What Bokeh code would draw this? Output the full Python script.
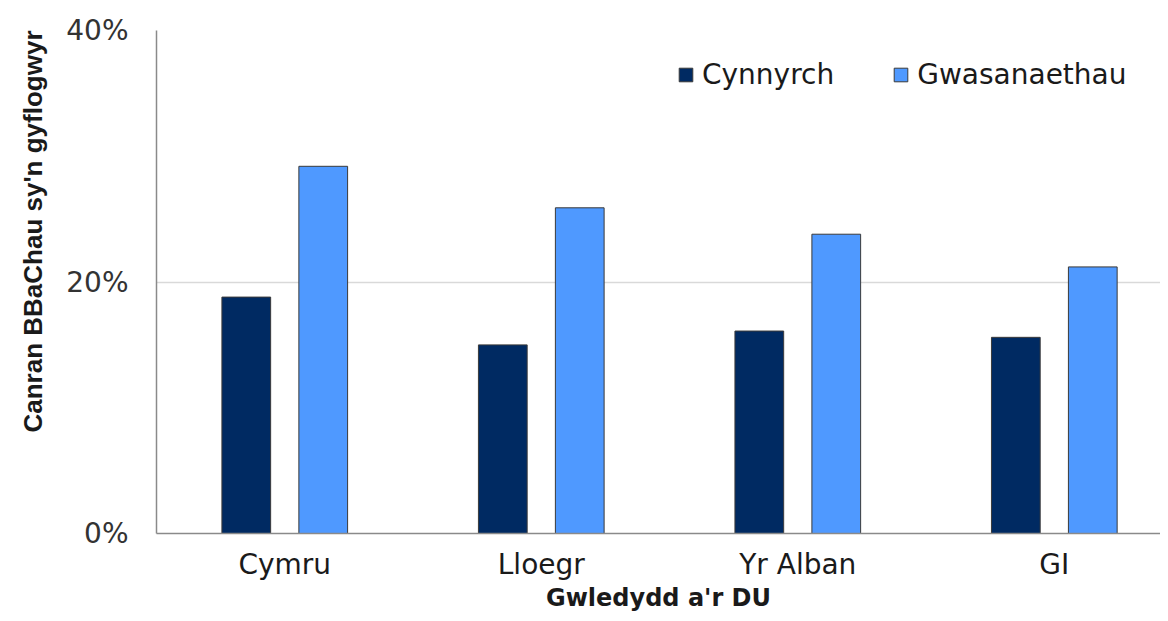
from bokeh.plotting import figure
from bokeh.models import Range1d, FixedTicker, ColumnDataSource, Legend, LegendItem, PrintfTickFormatter, Title
from bokeh.transform import dodge
from bokeh.embed import file_html
from bokeh.resources import INLINE

categories = ["Cymru", "Lloegr", "Yr Alban", "GI"]
cynnyrch = [18.8, 15.0, 16.1, 15.6]
gwasanaethau = [29.2, 25.9, 23.8, 21.2]
y_ticks = [0, 20, 40]

FONT = "DejaVu Sans"
x_pos = list(range(len(categories)))
src = ColumnDataSource(dict(x=x_pos, c=cynnyrch, g=gwasanaethau))

p = figure(width=1160, height=613, output_backend="svg", toolbar_location=None,
           x_range=Range1d(-0.5, 3.414), y_range=Range1d(0, 40),
           min_border_left=155, min_border_right=0, min_border_top=30, min_border_bottom=80)

r1 = p.vbar(x=dodge("x", -0.15), top="c", width=0.19, source=src,
            fill_color="#002a62", line_color="#3a3a3a", line_width=1)
r2 = p.vbar(x=dodge("x", 0.15), top="g", width=0.19, source=src,
            fill_color="#4f99ff", line_color="#3a3a3a", line_width=1)

p.outline_line_color = None
p.background_fill_color = "white"
p.border_fill_color = "white"

p.xgrid.visible = False
p.ygrid.ticker = FixedTicker(ticks=y_ticks)
p.ygrid.grid_line_color = "#d9d9d9"
p.ygrid.grid_line_width = 1.5

ya = p.yaxis[0]
ya.ticker = FixedTicker(ticks=y_ticks)
ya.formatter = PrintfTickFormatter(format="%d%%")
ya.major_tick_line_color = None
ya.minor_tick_line_color = None
ya.axis_line_color = "#8a8a8a"
ya.axis_line_width = 1.5
ya.major_label_text_font = FONT
ya.major_label_text_font_size = "28px"
ya.major_label_text_color = "#333333"
ya.major_label_standoff = 22

xa = p.xaxis[0]
xa.ticker = FixedTicker(ticks=x_pos)
xa.major_label_overrides = {i: c for i, c in enumerate(categories)}
xa.major_tick_line_color = None
xa.minor_tick_line_color = None
xa.axis_line_color = "#8a8a8a"
xa.axis_line_width = 1.5
xa.major_label_text_font = FONT
xa.major_label_text_font_size = "28px"
xa.major_label_text_color = "#1a1a1a"
xa.major_label_standoff = 8

ytitle = Title(text="Canran BBaChau sy'n gyflogwyr", align="right", offset=0,
               text_font="Liberation Sans", text_font_size="26px", text_font_style="bold",
               text_color="#1a1a1a", standoff=31)
p.add_layout(ytitle, "left")

xtitle = Title(text="Gwledydd a'r DU", align="center", offset=4,
               text_font=FONT, text_font_size="24px", text_font_style="bold",
               text_color="#1a1a1a", standoff=-4)
p.add_layout(xtitle, "below")

legend = Legend(items=[LegendItem(label="Cynnyrch", renderers=[r1]),
                       LegendItem(label="Gwasanaethau", renderers=[r2])],
                orientation="horizontal", location=(521, 442),
                border_line_color=None, background_fill_alpha=0,
                padding=0, margin=0, spacing=58, label_standoff=8,
                glyph_width=17, glyph_height=17,
                label_text_font=FONT, label_text_font_size="28px",
                label_text_color="#1a1a1a")
p.add_layout(legend)

open("out.html", "w").write(file_html(p, INLINE))
